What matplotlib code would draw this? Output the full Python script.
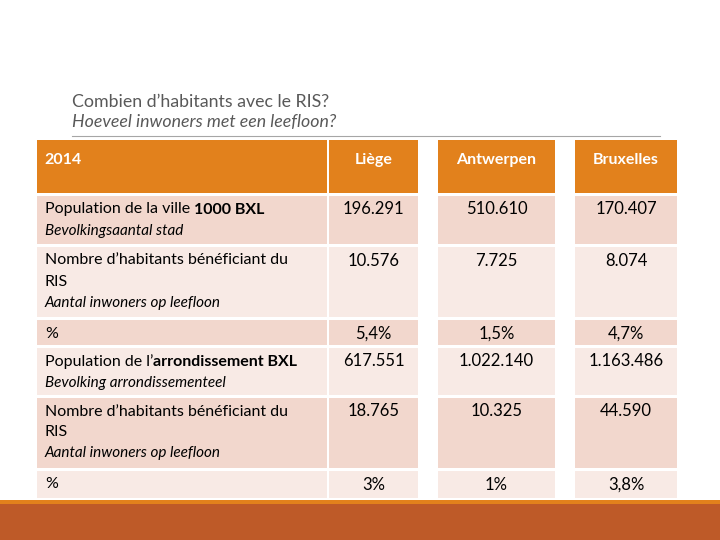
import matplotlib.pyplot as plt
from matplotlib.patches import Rectangle

plt.rcParams['font.family'] = ['Lato', 'DejaVu Sans']

# table content
year = '2014'
cities = ['Liège', 'Antwerpen', 'Bruxelles']
row_fr = [[('Population de la ville ', '1000 BXL')],
          [('Nombre d\u2019habitants bénéficiant du', ''), ('RIS', '')],
          [('%', '')],
          [('Population de l\u2019', 'arrondissement BXL')],
          [('Nombre d\u2019habitants bénéficiant du', ''), ('RIS', '')],
          [('%', '')]]
row_nl = ['Bevolkingsaantal stad', 'Aantal inwoners op leefloon', '',
          'Bevolking arrondissementeel', 'Aantal inwoners op leefloon', '']
liege = ['196.291', '10.576', '5,4%', '617.551', '18.765', '3%']
antwerpen = ['510.610', '7.725', '1,5%', '1.022.140', '10.325', '1%']
bruxelles = ['170.407', '8.074', '4,7%', '1.163.486', '44.590', '3,8%']
values = [liege, antwerpen, bruxelles]

# layout in pixels
col_x = [(37, 327), (329, 418), (438, 555), (575, 677)]
row_y = [(140, 193), (196, 244), (247, 317), (320, 345),
         (348, 395), (398, 468), (471, 498)]
orange = '#E2811C'
dark = '#F2D7CD'
light = '#F8EAE5'
fs = 11.5
lh = 21

fig = plt.figure(figsize=(7.2, 5.4), dpi=100)
ax = fig.add_axes([0, 0, 1, 1])
ax.set_xlim(0, 720)
ax.set_ylim(540, 0)
ax.axis('off')
renderer = fig.canvas.get_renderer()

# title
ax.text(72, 102, 'Combien d\u2019habitants avec le RIS?', fontsize=12.8,
        color='#595959', va='center')
ax.text(72, 122, 'Hoeveel inwoners met een leefloon?', fontsize=12.8,
        color='#595959', va='center', style='italic')
ax.plot([72, 660], [136, 136], color='#A6A6A6', lw=0.8)

# header
y0, y1 = row_y[0]
for (x0, x1) in col_x:
    ax.add_patch(Rectangle((x0, y0), x1 - x0, y1 - y0, color=orange, lw=0))
ax.text(col_x[0][0] + 7, 160, year, color='white', fontsize=fs,
        fontweight='bold', va='center')
for j, c in enumerate(cities):
    x0, x1 = col_x[j + 1]
    ax.text((x0 + x1) / 2, 160, c, color='white', fontsize=fs,
            fontweight='bold', va='center', ha='center')

# body
for i in range(6):
    y0, y1 = row_y[i + 1]
    fc = dark if i % 2 == 0 else light
    for (x0, x1) in col_x:
        ax.add_patch(Rectangle((x0, y0), x1 - x0, y1 - y0, color=fc, lw=0))
    ty = y0 + 13.5
    for k, (normal, bold) in enumerate(row_fr[i]):
        yy = ty + k * lh
        t = ax.text(col_x[0][0] + 8, yy, normal, fontsize=fs, va='center',
                    color='black')
        if bold:
            bb = t.get_window_extent(renderer)
            xb = ax.transData.inverted().transform((bb.x1, bb.y1))[0]
            ax.text(xb, yy, bold, fontsize=fs, va='center', color='black',
                    fontweight='bold')
    if row_nl[i]:
        ax.text(col_x[0][0] + 8, ty + lh * len(row_fr[i]), row_nl[i],
                fontsize=fs - 0.5, va='center', style='italic', color='black')
    for j in range(3):
        x0, x1 = col_x[j + 1]
        ax.text((x0 + x1) / 2, ty, values[j][i], fontsize=fs + 0.5,
                va='center', ha='center', color='black')

# bottom band
ax.add_patch(Rectangle((0, 500), 720, 5, color=orange, lw=0))
ax.add_patch(Rectangle((0, 504), 720, 36, color='#BE5A28', lw=0))

fig.savefig('out.png', dpi=100)
